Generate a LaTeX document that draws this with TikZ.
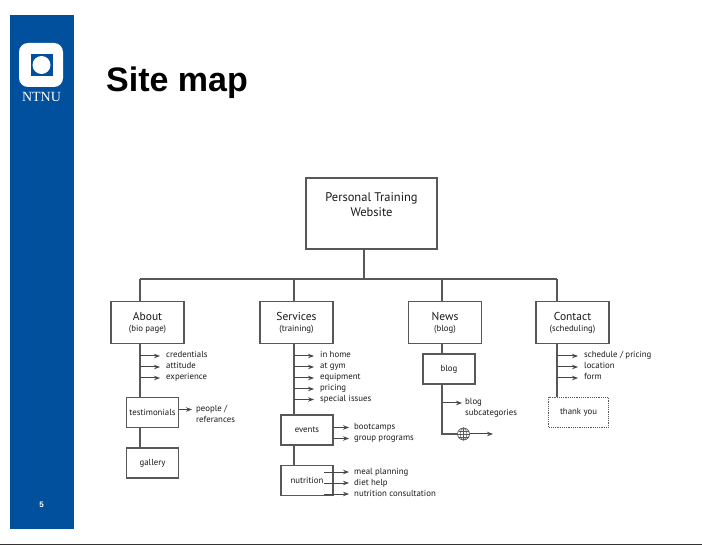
\documentclass[tikz,border=0pt]{standalone}
\usepackage{fontspec}
\setmainfont{PT Sans}
\newfontfamily\titlefont{Liberation Sans}
\newfontfamily\logofont{Liberation Serif}
\usetikzlibrary{arrows.meta}
\definecolor{ntnublue}{HTML}{00509E}
\definecolor{mapgray}{HTML}{585858}
\definecolor{mapink}{HTML}{1A1A1A}
\tikzset{
    mapline/.style={draw=mapgray, line width=1.2pt},
    maparrow/.style={mapline, line width=1pt, draw=mapgray!80!black, -{Stealth[length=6pt,width=4.5pt]}},
    mapbox/.style={mapline, fill=white, align=center, inner sep=0pt, text=mapink, font=\fontsize{8.8}{11}\selectfont},
    rootbox/.style={mapbox, minimum width=131pt, minimum height=71pt, font=\fontsize{12.5}{15.5}\selectfont},
    pagebox/.style={mapbox, minimum width=73pt, minimum height=42pt},
    subbox/.style={mapbox, minimum width=52pt, minimum height=30pt},
    leaf/.style={anchor=west, inner xsep=6pt, inner ysep=0pt, text height=6pt, text depth=2pt, text=mapink, font=\fontsize{8.8}{10}\selectfont},
}
\begin{document}
\begin{tikzpicture}[x=1pt,y=-1pt]
    \useasboundingbox (0,0) rectangle (702,545);
    % slide furniture
    \fill[ntnublue] (10,15) rectangle (74,529);
    \fill[white, rounded corners=9pt] (19,43) rectangle (63,87);
    \fill[ntnublue] (30.5,54) rectangle (52.5,76);
    \fill[white] (41.5,65) circle (9);
    \node[text=white, font=\logofont\fontsize{14}{16}\selectfont] (ntnu) at (41.5,97) {NTNU};
    \node[text=white, font=\titlefont\bfseries\fontsize{8}{10}\selectfont] (pagenr) at (41.5,504.5) {5};
    \node[anchor=base west, inner sep=0pt, font=\titlefont\bfseries\fontsize{34}{38}\selectfont] (title) at (106,92) {Site map};
    \draw[black!80, line width=1pt] (0,544.5) -- (702,544.5);

    % main boxes
    \node[rootbox] (root) at (371.5,213.5) {Personal Training\\Website\\[2.5pt]\mbox{}};
    \node[pagebox] (about) at (147.5,322.5) {{\fontsize{11.5}{13}\selectfont About}\\(bio page)};
    \node[pagebox] (services) at (296.5,322.5) {{\fontsize{11.5}{13}\selectfont Services}\\(training)};
    \node[pagebox] (news) at (445,322.5) {{\fontsize{11.5}{13}\selectfont News}\\(blog)};
    \node[pagebox] (contact) at (572.5,322.5) {{\fontsize{11.5}{13}\selectfont Contact}\\(scheduling)};
    \node[subbox] (testimonials) at (152.5,412.5) {testimonials};
    \node[subbox] (gallery) at (152.5,463) {gallery};
    \node[subbox] (events) at (307,430) {events};
    \node[subbox] (nutrition) at (307,480.5) {nutrition};
    \node[subbox] (blog) at (449,369) {blog};
    \node[subbox, minimum width=60pt, densely dotted] (thanks) at (578.5,412.5) {thank you};

    % drop points on the bus
    \coordinate (rootdrop) at (364,279);
    \coordinate (aboutdrop) at (140,279);
    \coordinate (servicesdrop) at (294,279);
    \coordinate (newsdrop) at (442,279);
    \coordinate (contactdrop) at (557,279);
    \draw[mapline] (rootdrop |- root.south) -- (rootdrop);
    \draw[mapline] (aboutdrop) -- (contactdrop);
    \draw[mapline] (aboutdrop) -- (aboutdrop |- about.north);
    \draw[mapline] (servicesdrop) -- (servicesdrop |- services.north);
    \draw[mapline] (newsdrop) -- (newsdrop |- news.north);
    \draw[mapline] (contactdrop) -- (contactdrop |- contact.north);

    % about
    \draw[mapline] (aboutdrop |- about.south) -- (aboutdrop |- testimonials.north);
    \draw[mapline] (aboutdrop |- testimonials.south) -- (aboutdrop |- gallery.north);
    \node[leaf] (credentials) at (160,356) {credentials};
    \node[leaf] (attitude) at (160,367) {attitude};
    \node[leaf] (experience) at (160,378) {experience};
    \node[leaf, inner xsep=4pt] (people) at (192,409.5) {people /};
    \node[leaf, inner xsep=4pt] (referances) at (192,421) {referances};
    \draw[maparrow] (aboutdrop |- credentials.west) -- (credentials.west);
    \draw[maparrow] (aboutdrop |- attitude.west) -- (attitude.west);
    \draw[maparrow] (aboutdrop |- experience.west) -- (experience.west);
    \draw[maparrow] (testimonials.east |- people.west) -- (people.west);

    % services
    \draw[mapline] (servicesdrop |- services.south) -- (servicesdrop |- events.north);
    \draw[mapline] (servicesdrop |- events.south) -- (servicesdrop |- nutrition.north);
    \node[leaf] (inhome) at (314,356) {in home};
    \node[leaf] (atgym) at (314,367) {at gym};
    \node[leaf] (equipment) at (314,378) {equipment};
    \node[leaf] (pricing) at (314,389) {pricing};
    \node[leaf] (issues) at (314,399.5) {special issues};
    \draw[maparrow] (servicesdrop |- inhome.west) -- (inhome.west);
    \draw[maparrow] (servicesdrop |- atgym.west) -- (atgym.west);
    \draw[maparrow] (servicesdrop |- equipment.west) -- (equipment.west);
    \draw[maparrow] (servicesdrop |- pricing.west) -- (pricing.west);
    \draw[maparrow] (servicesdrop |- issues.west) -- (issues.west);
    \node[leaf, inner xsep=5pt] (bootcamps) at (349,427.5) {bootcamps};
    \node[leaf, inner xsep=5pt] (programs) at (349,438.5) {group programs};
    \draw[maparrow] (events.east |- bootcamps.west) -- (bootcamps.west);
    \draw[maparrow] (events.east |- programs.west) -- (programs.west);
    \coordinate (nutritionstart) at (324,480);
    \node[leaf, inner xsep=5pt] (planning) at (349,472) {meal planning};
    \node[leaf, inner xsep=5pt] (diet) at (349,483) {diet help};
    \node[leaf, inner xsep=5pt] (consult) at (349,494) {nutrition consultation};
    \draw[maparrow] (nutritionstart |- planning.west) -- (planning.west);
    \draw[maparrow] (nutritionstart |- diet.west) -- (diet.west);
    \draw[maparrow] (nutritionstart |- consult.west) -- (consult.west);

    % news
    \draw[mapline] (newsdrop |- news.south) -- (newsdrop |- blog.north);
    \node[leaf, inner xsep=3pt] (blogcat) at (462,403) {blog};
    \node[leaf, inner xsep=3pt] (subcat) at (462,413.5) {subcategories};
    \draw[maparrow] (newsdrop |- blogcat.west) -- (blogcat.west);
    \node[circle, draw=mapgray, line width=0.7pt, minimum size=12pt, inner sep=0pt] (globe) at (463.5,434) {};
    \coordinate (webend) at (493,434);
    \draw[mapline] (newsdrop |- blog.south) -- (newsdrop |- globe.west) -- (globe.west);
    \draw[maparrow] (globe.east) -- (webend);
    \draw[draw=mapgray, line width=0.5pt] (globe.north) -- (globe.south);
    \draw[draw=mapgray, line width=0.5pt] (globe.west) -- (globe.east);
    \draw[draw=mapgray, line width=0.5pt] (globe.north) .. controls (459,430) and (459,438) .. (globe.south);
    \draw[draw=mapgray, line width=0.5pt] (globe.north) .. controls (468,430) and (468,438) .. (globe.south);
    \draw[draw=mapgray, line width=0.5pt] (458.5,431) -- (468.5,431);
    \draw[draw=mapgray, line width=0.5pt] (458.5,437) -- (468.5,437);

    % contact
    \draw[mapline] (contactdrop |- contact.south) -- (contactdrop |- thanks.north);
    \node[leaf] (schedule) at (578,356) {schedule / pricing};
    \node[leaf] (location) at (578,367) {location};
    \node[leaf] (form) at (578,378) {form};
    \draw[maparrow] (contactdrop |- schedule.west) -- (schedule.west);
    \draw[maparrow] (contactdrop |- location.west) -- (location.west);
    \draw[maparrow] (contactdrop |- form.west) -- (form.west);
\end{tikzpicture}
\end{document}
